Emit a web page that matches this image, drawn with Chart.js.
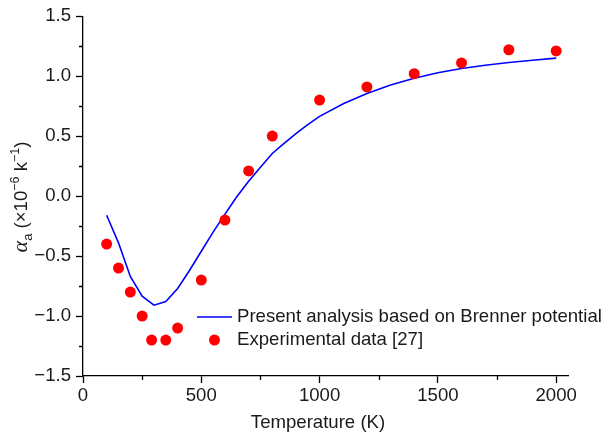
<!DOCTYPE html>
<html>
<head>
<meta charset="utf-8">
<script src="https://cdn.jsdelivr.net/npm/chart.js@4/dist/chart.umd.min.js"></script>
<style>
  html, body { margin: 0; padding: 0; background: #fff; }
  #wrap { width: 605px; height: 437px; position: relative; }
</style>
</head>
<body>
<div id="wrap"><canvas id="alphaChart"></canvas></div>
<script>
// ---- data ----
var tempLine  = [100, 150, 200, 250, 300, 350, 400, 450, 500, 550, 600, 650, 700, 750, 800, 850, 900, 950, 1000, 1100, 1200, 1300, 1400, 1500, 1600, 1700, 1800, 1900, 2000];
var alphaLine = [-0.16, -0.39, -0.67, -0.835, -0.91, -0.88, -0.77, -0.62, -0.46, -0.30, -0.15, -0.005, 0.124, 0.241, 0.355, 0.44, 0.52, 0.595, 0.665, 0.77, 0.856, 0.926, 0.983, 1.028, 1.063, 1.091, 1.113, 1.133, 1.15];

var tempExp  = [100, 150, 200, 250, 290, 350, 400, 500, 600, 700, 800, 1000, 1200, 1400, 1600, 1800, 2000];
var alphaExp = [-0.40, -0.60, -0.80, -1.00, -1.20, -1.20, -1.10, -0.70, -0.20, 0.21, 0.50, 0.80, 0.91, 1.02, 1.11, 1.22, 1.21];

var xTicks = [0, 500, 1000, 1500, 2000];
var yTicks = [-1.5, -1.0, -0.5, 0.0, 0.5, 1.0, 1.5];
var xMinor = [250, 750, 1250, 1750];
var yMinor = [-1.25, -0.75, -0.25, 0.25, 0.75, 1.25];

var lineLabel = 'Present analysis based on Brenner potential';
var expLabel  = 'Experimental data [27]';

var FONT = '"Liberation Sans", Arial, sans-serif';
var FS = 18.6;
var TXT = '#1a1a1a';

function toXY(xs, ys) {
    return xs.map(function(x, i) { return { x: x, y: ys[i] }; });
}

// minor ticks, axis titles and the in-plot legend
var decorPlugin = {
    id: 'decor',
    afterDraw: function(chart) {
        var ctx = chart.ctx;
        var xs = chart.scales.x, ys = chart.scales.y;
        var area = chart.chartArea;
        ctx.save();
        ctx.strokeStyle = '#000';
        ctx.lineWidth = 1.3;
        ctx.beginPath();
        xMinor.forEach(function(v) {
            var px = Math.round(xs.getPixelForValue(v)) + 0.5;
            ctx.moveTo(px, area.bottom); ctx.lineTo(px, area.bottom + 4);
        });
        yMinor.forEach(function(v) {
            var py = Math.round(ys.getPixelForValue(v)) + 0.5;
            ctx.moveTo(area.left, py); ctx.lineTo(area.left - 4, py);
        });
        ctx.stroke();

        // x title
        ctx.fillStyle = TXT;
        ctx.font = FS + 'px ' + FONT;
        ctx.textAlign = 'center';
        ctx.textBaseline = 'middle';
        ctx.fillText('Temperature (K)', 318, 423);

        // y title with sub/superscripts
        var parts = [
            { t: '\u03B1', f: 'italic 22px "Liberation Serif", serif', dy: 0 },
            { t: 'a', f: '13px ' + FONT, dy: 5 },
            { t: ' (\u00D710', f: FS + 'px ' + FONT, dy: 0 },
            { t: '\u22126', f: '12.5px ' + FONT, dy: -7.5 },
            { t: ' k', f: FS + 'px ' + FONT, dy: 0 },
            { t: '\u22121', f: '12.5px ' + FONT, dy: -7.5 },
            { t: ')', f: FS + 'px ' + FONT, dy: 0 }
        ];
        var total = 0;
        parts.forEach(function(p) { ctx.font = p.f; p.w = ctx.measureText(p.t).width; total += p.w; });
        ctx.save();
        ctx.translate(20, 197);
        ctx.rotate(-Math.PI / 2);
        ctx.textAlign = 'left';
        ctx.textBaseline = 'alphabetic';
        var cx = -total / 2;
        parts.forEach(function(p) {
            ctx.font = p.f;
            ctx.fillText(p.t, cx, 6.5 + p.dy);
            cx += p.w;
        });
        ctx.restore();

        // legend
        ctx.strokeStyle = '#0000ff';
        ctx.lineWidth = 1.6;
        ctx.beginPath();
        ctx.moveTo(197, 317); ctx.lineTo(232, 317);
        ctx.stroke();
        ctx.fillStyle = '#ff0000';
        ctx.beginPath();
        ctx.arc(214.5, 340, 5.5, 0, Math.PI * 2);
        ctx.fill();
        ctx.fillStyle = TXT;
        ctx.font = FS + 'px ' + FONT;
        ctx.textAlign = 'left';
        ctx.textBaseline = 'middle';
        ctx.fillText(lineLabel, 237, 317);
        ctx.fillText(expLabel, 237, 340);
        ctx.restore();
    }
};

var canvas = document.getElementById('alphaChart');
var chart = new Chart(canvas.getContext('2d'), {
    type: 'scatter',
    data: {
        datasets: [
            {
                label: expLabel,
                data: toXY(tempExp, alphaExp),
                pointRadius: 5.5,
                pointBackgroundColor: '#ff0000',
                pointBorderWidth: 0,
                order: 0
            },
            {
                label: lineLabel,
                data: toXY(tempLine, alphaLine),
                showLine: true,
                borderColor: '#0000ff',
                borderWidth: 1.6,
                pointRadius: 0,
                tension: 0,
                order: 1
            }
        ]
    },
    options: {
        responsive: true,
        maintainAspectRatio: false,
        animation: false,
        layout: { padding: { left: 0, top: 15, right: 37, bottom: 0 } },
        plugins: {
            legend: { display: false },
            tooltip: { enabled: false },
            title: { display: false }
        },
        scales: {
            x: {
                type: 'linear',
                min: 0, max: 2050,
                afterBuildTicks: function(s) { s.ticks = xTicks.map(function(v) { return { value: v }; }); },
                afterFit: function(s) { s.height = 61; },
                border: { display: true, color: '#000', width: 1.3 },
                grid: { drawOnChartArea: false, drawTicks: true, tickLength: 7, tickColor: '#000', tickWidth: 1.3 },
                ticks: { color: TXT, font: { family: FONT, size: FS }, padding: 2, maxRotation: 0,
                         callback: function(v) { return String(v); } }
            },
            y: {
                type: 'linear',
                min: -1.5, max: 1.5,
                afterBuildTicks: function(s) { s.ticks = yTicks.map(function(v) { return { value: v }; }); },
                afterFit: function(s) { s.width = 83; },
                border: { display: true, color: '#000', width: 1.3 },
                grid: { drawOnChartArea: false, drawTicks: true, tickLength: 7, tickColor: '#000', tickWidth: 1.3 },
                ticks: { color: TXT, font: { family: FONT, size: FS }, padding: 5,
                         callback: function(v) { return (v < 0 ? '\u2212' : '') + Math.abs(v).toFixed(1); } }
            }
        }
    },
    plugins: [decorPlugin]
});
</script>
</body>
</html>
